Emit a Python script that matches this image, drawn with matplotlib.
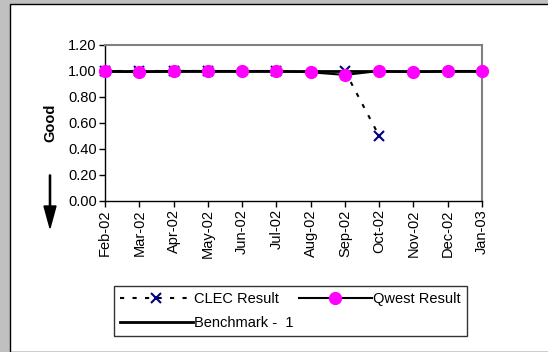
import numpy as np
import matplotlib
matplotlib.use("Agg")
import matplotlib.pyplot as plt
from matplotlib.patches import Rectangle, FancyArrow

plt.rcParams['font.family'] = ['Liberation Sans', 'DejaVu Sans']

months = ["Feb-02", "Mar-02", "Apr-02", "May-02", "Jun-02", "Jul-02",
          "Aug-02", "Sep-02", "Oct-02", "Nov-02", "Dec-02", "Jan-03"]
clec = [1.0, 1.0, 1.0, 1.0, np.nan, 1.0, np.nan, 1.0, 0.5, np.nan, np.nan, np.nan]
qwest = [1.0, 0.99, 1.0, 1.0, 1.0, 1.0, 0.99, 0.97, 1.0, 0.99, 1.0, 1.0]
benchmark = [1, 1, 1, 1, 1, 1, 1, 1, 1, 1, 1, 1]
yticks = [0.0, 0.2, 0.4, 0.6, 0.8, 1.0, 1.2]

W, H = 548, 352
FS = 10.5
fig = plt.figure(figsize=(W/100, H/100), dpi=100)
fig.patch.set_facecolor('#c0c0c0')

# white panel
panel = Rectangle((10/W, 0), (W-10)/W + 0.01, (H-4)/H, transform=fig.transFigure,
                  facecolor='white', edgecolor='black', linewidth=1.0, zorder=0)
fig.add_artist(panel)

ax = fig.add_axes([105/W, 1-201/H, (482-105)/W, (201-45)/H])
ax.set_facecolor('none')
x = np.arange(len(months))

ax.plot(x, benchmark, color='black', linewidth=2, zorder=2, label='Benchmark -  1')
ax.plot(x, clec, color='black', linestyle=(0, (2, 4)), linewidth=1.5, zorder=3,
        marker='x', markersize=7, markeredgecolor='#000080', markeredgewidth=1.5,
        label='CLEC Result')
ax.plot(x, qwest, color='black', linewidth=1.5, zorder=4,
        marker='o', markersize=8.5, markerfacecolor='#ff00ff', markeredgecolor='#ff00ff',
        label='Qwest Result')

ax.set_xlim(0, len(months)-1)
ax.set_ylim(0, 1.2)
ax.set_yticks(yticks)
ax.set_yticklabels([f"{v:.2f}" for v in yticks], fontsize=FS)
ax.set_xticks(x)
ax.set_xticklabels(months, rotation=90, fontsize=FS)
ax.tick_params(axis='both', length=4, width=1, color='black', pad=2)

for s in ['top', 'right']:
    ax.spines[s].set_color('#808080')
    ax.spines[s].set_linewidth(1.5)
for s in ['left', 'bottom']:
    ax.spines[s].set_color('black')
    ax.spines[s].set_linewidth(1.0)
for l in ax.lines:
    l.set_clip_on(False)

fig.text(50/W, 1-123/H, 'Good', rotation=90, fontweight='bold', fontsize=FS,
         ha='center', va='center')

arrow = FancyArrow(50/W, 1-175/H, 0, -(228-175)/H, width=0.6/W*2,
                   head_width=12/W, head_length=22/H, length_includes_head=True,
                   transform=fig.transFigure, color='black')
fig.add_artist(arrow)

handles, labels = ax.get_legend_handles_labels()
order = [1, 0, 2]  # column-major: CLEC, Benchmark | Qwest
leg = fig.legend([handles[i] for i in order], [labels[i] for i in order],
                 loc='upper left', bbox_to_anchor=(114/W, 1-286/H),
                 ncol=2, fontsize=FS, frameon=True, fancybox=False,
                 edgecolor='black', handlelength=5.0, handletextpad=0.1,
                 columnspacing=0.35, borderpad=0.4, labelspacing=0.7, borderaxespad=0)
leg.get_frame().set_linewidth(1.0)

fig.savefig('out.png', dpi=100, facecolor=fig.get_facecolor())
